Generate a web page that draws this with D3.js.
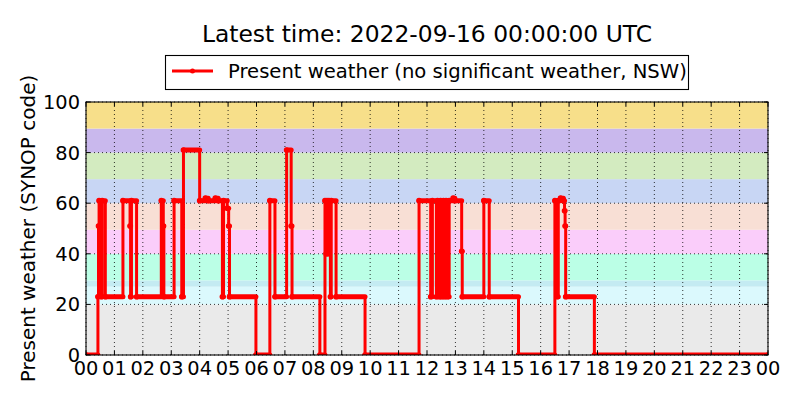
<!DOCTYPE html>
<html>
<head>
<meta charset="utf-8">
<script src="https://cdn.jsdelivr.net/npm/d3@7"></script>
<style>
  body { margin: 0; background: #fff; }
  svg { display: block; font-family: "DejaVu Sans", sans-serif; }
</style>
</head>
<body>
<svg id="chart" width="800" height="400"></svg>
<script>
// Beobachtungen: Zeit (Stunden ab 00 UTC) bei jedem Codewechsel
const obsHours = [
  0, 0.42, 0.44, 0.46, 0.54, 0.57, 0.68,
  1.30, 1.55, 1.57, 1.60, 1.78,
  2.65, 2.72, 2.74,
  3.10, 3.37, 3.43,
  4.00, 4.20, 4.30, 4.55, 4.65, 4.80, 4.84, 4.97, 5.02, 5.05,
  5.98,
  6.47, 6.65,
  7.06, 7.22, 7.25,
  8.23,
  8.41, 8.45, 8.48, 8.52, 8.55, 8.60, 8.63, 8.80,
  9.82,
  11.72, 12.13, 12.19, 12.33, 12.37, 12.44, 12.48, 12.53, 12.58, 12.63, 12.67, 12.73, 12.78, 12.92, 12.98, 13.22, 13.24,
  14.00, 14.19,
  15.22,
  16.50, 16.58, 16.62, 16.70, 16.80, 16.84, 16.86, 16.88,
  17.89, 24
];
const synopCodes = [
  0, 23, 51, 61, 23, 61, 23,
  61, 51, 23, 61, 23,
  61, 51, 23,
  61, 23, 81,
  61, 62, 61, 62, 61, 23, 61, 58, 51, 23,
  0,
  61, 23,
  81, 51, 23,
  0,
  61, 40, 61, 40, 61, 23, 61, 23,
  0,
  61, 23, 61, 23, 61, 23, 61, 23, 61, 23, 61, 23, 61, 62, 61, 41, 23,
  61, 23,
  0,
  61, 23, 61, 62, 61, 57, 51, 23,
  0, 0
];

// Hintergrundbänder (SYNOP-Klassen)
const bandLow  = [0, 20, 27, 29.5, 40, 49.5, 60, 69.5, 80, 89.5];
const bandHigh = [20, 27, 29.5, 40, 49.5, 60, 69.5, 80, 89.5, 100];
const bandColors = ["#eaeaea", "#dbf9fd", "#c4ebf2", "#bbffe6", "#facdfa",
                    "#f8dfd5", "#c8d6f4", "#d3ebc0", "#c9b8ed", "#f7df8a"];

const hourTicks = ["00", "01", "02", "03", "04", "05", "06", "07", "08", "09", "10", "11",
                   "12", "13", "14", "15", "16", "17", "18", "19", "20", "21", "22", "23", "00"];
const codeTicks = [0, 20, 40, 60, 80, 100];

const titleText = "Latest time: 2022-09-16 00:00:00 UTC";
const legendText = "Present weather (no significant weather, NSW)";
const yLabel = "Present weather (SYNOP code)";

const svg = d3.select("#chart");
const plotLeft = 86, plotRight = 768, plotTop = 102, plotBottom = 355;

const x = d3.scaleLinear().domain([0, 24]).range([plotLeft, plotRight]);
const y = d3.scaleLinear().domain([0, 100]).range([plotBottom, plotTop]);

const data = obsHours.map((h, i) => ({ h: h, v: synopCodes[i] }));

svg.append("defs").append("clipPath").attr("id", "plot")
  .append("rect")
  .attr("x", plotLeft).attr("y", plotTop)
  .attr("width", plotRight - plotLeft).attr("height", plotBottom - plotTop);

// Bänder
svg.append("g").selectAll("rect")
  .data(bandLow)
  .enter()
  .append("rect")
  .attr("x", plotLeft)
  .attr("width", plotRight - plotLeft)
  .attr("y", (d, i) => y(bandHigh[i]))
  .attr("height", (d, i) => y(d) - y(bandHigh[i]))
  .attr("fill", (d, i) => bandColors[i]);

// Gitter (gepunktet)
const grid = svg.append("g")
  .attr("stroke", "#000")
  .attr("stroke-width", 0.8)
  .attr("stroke-dasharray", "1,3");
grid.selectAll(".gx")
  .data(hourTicks)
  .enter()
  .append("line")
  .attr("x1", (d, i) => x(i)).attr("x2", (d, i) => x(i))
  .attr("y1", plotTop).attr("y2", plotBottom);
grid.selectAll(".gy")
  .data(codeTicks)
  .enter()
  .append("line")
  .attr("x1", plotLeft).attr("x2", plotRight)
  .attr("y1", d => y(d)).attr("y2", d => y(d));

// Daten
const plot = svg.append("g").attr("clip-path", "url(#plot)");

// dichte Marker auf den Plateaus -> breitere Linie
plot.selectAll(".run")
  .data(data.slice(0, -1))
  .enter()
  .append("line")
  .attr("x1", d => x(d.h))
  .attr("x2", (d, i) => x(data[i + 1].h))
  .attr("y1", d => y(d.v))
  .attr("y2", d => y(d.v))
  .attr("stroke", "#ff0000")
  .attr("stroke-width", 5)
  .attr("stroke-linecap", "round");

const line = d3.line()
  .x(d => x(d.h))
  .y(d => y(d.v))
  .curve(d3.curveStepAfter);

plot.append("path")
  .datum(data)
  .attr("d", line)
  .attr("fill", "none")
  .attr("stroke", "#ff0000")
  .attr("stroke-width", 3);

plot.selectAll("circle")
  .data(data)
  .enter()
  .append("circle")
  .attr("cx", d => x(d.h))
  .attr("cy", d => y(d.v))
  .attr("r", 2.8)
  .attr("fill", "#ff0000");

// Ticks innen, alle vier Seiten
const ticks = svg.append("g").attr("stroke", "#000").attr("stroke-width", 1);
hourTicks.forEach((t, i) => {
  ticks.append("line").attr("x1", x(i)).attr("x2", x(i)).attr("y1", plotBottom).attr("y2", plotBottom - 4);
  ticks.append("line").attr("x1", x(i)).attr("x2", x(i)).attr("y1", plotTop).attr("y2", plotTop + 4);
});
codeTicks.forEach(t => {
  ticks.append("line").attr("x1", plotLeft).attr("x2", plotLeft + 4).attr("y1", y(t)).attr("y2", y(t));
  ticks.append("line").attr("x1", plotRight).attr("x2", plotRight - 4).attr("y1", y(t)).attr("y2", y(t));
});

// Rahmen
svg.append("rect")
  .attr("x", plotLeft).attr("y", plotTop)
  .attr("width", plotRight - plotLeft).attr("height", plotBottom - plotTop)
  .attr("fill", "none")
  .attr("stroke", "#000")
  .attr("stroke-width", 1.1);

// Beschriftungen
svg.append("g").selectAll("text")
  .data(hourTicks)
  .enter()
  .append("text")
  .attr("x", (d, i) => x(i))
  .attr("y", 375)
  .attr("text-anchor", "middle")
  .style("font-size", "19.4px")
  .text(d => d);

svg.append("g").selectAll("text")
  .data(codeTicks)
  .enter()
  .append("text")
  .attr("x", 80)
  .attr("y", d => y(d) + 7)
  .attr("text-anchor", "end")
  .style("font-size", "19.4px")
  .text(d => d);

svg.append("text")
  .attr("transform", `translate(35, ${(plotTop + plotBottom) / 2}) rotate(-90)`)
  .attr("text-anchor", "middle")
  .style("font-size", "20px")
  .text(yLabel);

svg.append("text")
  .attr("x", (plotLeft + plotRight) / 2)
  .attr("y", 42)
  .attr("text-anchor", "middle")
  .style("font-size", "23.4px")
  .text(titleText);

// Legende
const legend = svg.append("g");
legend.append("rect")
  .attr("x", 165.5).attr("y", 55.5)
  .attr("width", 523).attr("height", 34)
  .attr("fill", "#fff")
  .attr("stroke", "#000")
  .attr("stroke-width", 1.1);
legend.append("line")
  .attr("x1", 172).attr("x2", 213)
  .attr("y1", 71).attr("y2", 71)
  .attr("stroke", "#ff0000")
  .attr("stroke-width", 3);
legend.append("circle")
  .attr("cx", 192.5).attr("cy", 71).attr("r", 2.5)
  .attr("fill", "#ff0000");
legend.append("text")
  .attr("x", 228)
  .attr("y", 78)
  .style("font-size", "19.6px")
  .text(legendText);
</script>
</body>
</html>
